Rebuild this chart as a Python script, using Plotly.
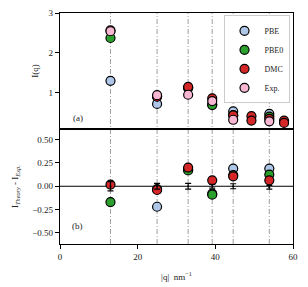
import plotly.graph_objects as go

# ---- data ----
q_exp = [13.0, 25.0, 33.0, 39.2, 44.6, 53.9]
I_exp = [2.54, 0.93, 0.94, 0.78, 0.31, 0.27]
I_pbe = [1.29, 0.71, 1.12, 0.70, 0.52, 0.46]
I_pbe0 = [2.37, 0.90, 1.11, 0.68, 0.43, 0.39]
q_dmc = [13.0, 25.0, 33.0, 39.2, 44.6, 49.3, 49.3, 53.9, 57.7, 57.7]
I_dmc = [2.56, 0.89, 1.14, 0.85, 0.42, 0.40, 0.29, 0.33, 0.29, 0.23]

d_pbe = [-1.25, -0.22, 0.18, -0.08, 0.19, 0.19]
d_pbe0 = [-0.17, -0.03, 0.17, -0.09, 0.12, 0.125]
d_dmc = [0.018, -0.04, 0.20, 0.064, 0.107, 0.064]
d_exp = [0.0, 0.0, 0.0, 0.0, 0.0, -0.01]
e_exp = [0.05, 0.03, 0.03, 0.02, 0.027, 0.02]

x_ticks = [0, 20, 40, 60]
y_top_ticks = [1, 2, 3]
y_bot_ticks = [-0.50, -0.25, 0.00, 0.25, 0.50]

C_PBE = "#aec7e8"
C_PBE0 = "#2ca02c"
C_DMC = "#d62728"
C_EXP = "#f7b6d2"

FONT = "Liberation Serif"
MS = 9
LINE = dict(color="black", width=1.2)

fig = go.Figure()

def mk(color):
    return dict(size=MS, color=color, line=LINE)

# top panel
fig.add_trace(go.Scatter(x=q_exp, y=I_pbe, mode="markers", marker=mk(C_PBE), name="PBE", xaxis="x2", yaxis="y2"))
fig.add_trace(go.Scatter(x=q_exp, y=I_pbe0, mode="markers", marker=mk(C_PBE0), name="PBE0", xaxis="x2", yaxis="y2"))
fig.add_trace(go.Scatter(x=q_dmc, y=I_dmc, mode="markers", marker=mk(C_DMC), name="DMC", xaxis="x2", yaxis="y2"))
fig.add_trace(go.Scatter(x=q_exp, y=I_exp, mode="markers", marker=mk(C_EXP), name="Exp.", xaxis="x2", yaxis="y2"))

# bottom panel
fig.add_trace(go.Scatter(x=q_exp, y=d_pbe, mode="markers", marker=mk(C_PBE), showlegend=False, xaxis="x", yaxis="y"))
fig.add_trace(go.Scatter(x=q_exp, y=d_pbe0, mode="markers", marker=mk(C_PBE0), showlegend=False, xaxis="x", yaxis="y"))
fig.add_trace(go.Scatter(x=q_exp, y=d_dmc, mode="markers", marker=mk(C_DMC), showlegend=False, xaxis="x", yaxis="y"))
fig.add_trace(go.Scatter(x=q_exp, y=d_exp, mode="markers", marker=dict(size=2, color="black"),
                         error_y=dict(type="data", array=e_exp, color="black", thickness=1.2, width=3),
                         showlegend=False, xaxis="x", yaxis="y"))

shapes = []
for q in q_exp:
    shapes.append(dict(type="line", xref="x", yref="paper", x0=q, x1=q, y0=0, y1=1,
                       line=dict(color="#888888", width=0.8, dash="5px,2px,1px,2px"), layer="below"))
shapes.append(dict(type="line", xref="x", yref="y", x0=0, x1=60, y0=0, y1=0,
                   line=dict(color="black", width=1), layer="below"))

axcommon = dict(showline=True, linecolor="black", linewidth=1.3, mirror=True,
                ticklen=4, tickwidth=1, tickcolor="black", showgrid=False, zeroline=False,
                automargin=False, tickfont=dict(family=FONT, size=9, color="#222"))

fig.update_layout(
    width=300, height=279,
    margin=dict(l=52, r=15, t=5, b=43),
    plot_bgcolor="white", paper_bgcolor="white",
    font=dict(family=FONT, size=9, color="#222"),
    xaxis=dict(domain=[0, 1], range=[0, 60], tickvals=x_ticks, anchor="y", ticks="outside",
               title=dict(text="|q|  nm<sup>−1</sup>", font=dict(family=FONT, size=9), standoff=12), **axcommon),
    yaxis=dict(domain=[0, 0.5], range=[-0.62, 0.62], tickvals=y_bot_ticks, tickformat=".2f", anchor="x",
               ticks="outside", **axcommon),
    xaxis2=dict(domain=[0, 1], range=[0, 60], tickvals=x_ticks, showticklabels=False, anchor="y2",
                ticks="", **axcommon),
    yaxis2=dict(domain=[0.5, 1], range=[0.09, 3], tickvals=y_top_ticks, anchor="x2", ticks="outside",
                **axcommon),
    shapes=shapes,
    legend=dict(x=0.985, y=0.99, xanchor="right", yanchor="top", bgcolor="white",
                bordercolor="#cccccc", borderwidth=1, font=dict(family=FONT, size=8),
                tracegroupgap=0, itemwidth=30),
    annotations=[
        dict(text="(a)", x=4.6, y=0.36, xref="x2", yref="y2", showarrow=False, font=dict(family=FONT, size=9)),
        dict(text="(b)", x=4.4, y=-0.43, xref="x", yref="y", showarrow=False, font=dict(family=FONT, size=9)),
        dict(text="I(q)", x=-0.107, y=0.75, xref="paper", yref="paper", textangle=-90, showarrow=False,
             xanchor="center", yanchor="middle", font=dict(family=FONT, size=9)),
        dict(text="I<sub><i>Theory</i></sub> - I<sub><i>Exp.</i></sub>", x=-0.19, y=0.25, xref="paper",
             yref="paper", textangle=-90, showarrow=False, xanchor="center", yanchor="middle",
             font=dict(family=FONT, size=9)),
    ],
)

fig.write_html("out.html")
